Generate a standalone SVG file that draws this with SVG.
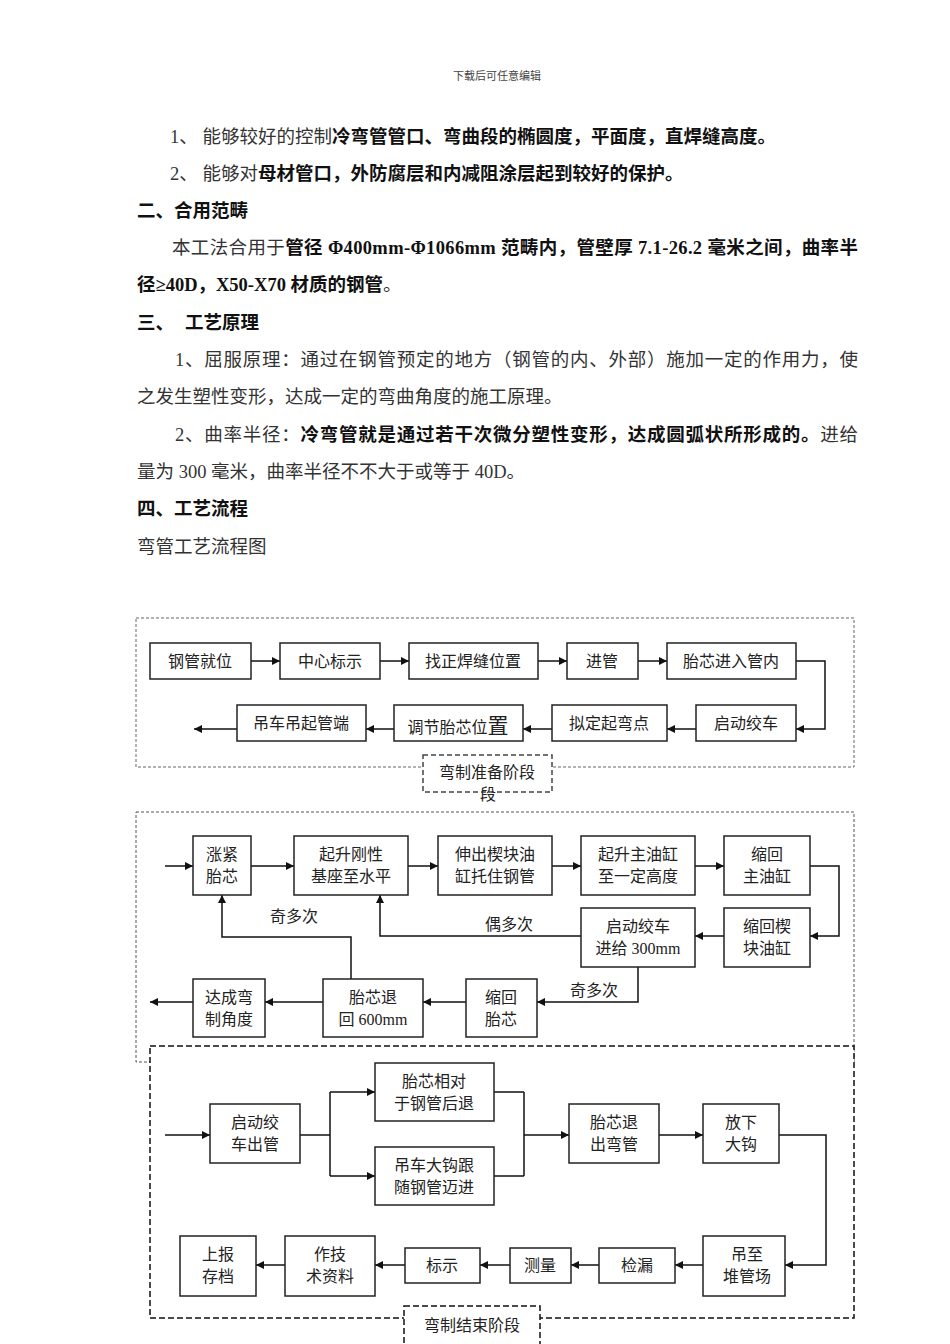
<svg xmlns="http://www.w3.org/2000/svg" width="950" height="1344" viewBox="0 0 950 1344">
<style>
.t{font-family:"Liberation Serif","Noto Sans CJK SC",serif;font-size:18.5px;fill:#111}
.b{font-weight:bold}
.n{font-weight:normal;fill:#333}
.bx{fill:#fff;stroke:#222;stroke-width:1.5}
.bt{font-family:"Liberation Serif","Noto Sans CJK SC",serif;font-size:16px;fill:#222;text-anchor:middle}
.lbl{font-family:"Liberation Serif","Noto Sans CJK SC",serif;font-size:16px;fill:#222;text-anchor:middle}
.c{fill:none;stroke:#111;stroke-width:1.5}
.ca{fill:none;stroke:#111;stroke-width:1.5;marker-end:url(#ah)}
</style>
<defs>
<marker id="ah" viewBox="0 0 10 10" refX="10" refY="5" markerWidth="9" markerHeight="8" markerUnits="userSpaceOnUse" orient="auto">
<path d="M0,0 L10,5 L0,10 z" fill="#111"/>
</marker>
</defs>
<rect width="950" height="1344" fill="#fff"/>

<g id="header">
<text x="497" y="80" font-family="Liberation Serif,Noto Sans CJK SC,serif" font-size="11" fill="#444" text-anchor="middle">下载后可任意编辑</text>
</g>

<g id="body-text" class="t">
<text x="170" y="143"><tspan class="n">1、 能够较好的控制</tspan><tspan class="b">冷弯管管口、弯曲段的椭圆度，平面度，直焊缝高度。</tspan></text>
<text x="170" y="180"><tspan class="n">2、 能够对</tspan><tspan class="b">母材管口，外防腐层和内减阻涂层起到较好的保护。</tspan></text>
<text x="137" y="217" class="b">二、合用范畴</text>
<text x="172" y="254" textLength="686" lengthAdjust="spacing"><tspan class="n">本工法合用于</tspan><tspan class="b">管径 Φ400mm-Φ1066mm 范畴内，管壁厚 7.1-26.2 毫米之间，曲率半</tspan></text>
<text x="137" y="291"><tspan class="b">径≥40D，X50-X70 材质的钢管</tspan><tspan class="n">。</tspan></text>
<text x="137" y="329" class="b">三、 <tspan x="185">工艺原理</tspan></text>
<text x="175" y="366" class="n" textLength="683" lengthAdjust="spacing">1、屈服原理：通过在钢管预定的地方（钢管的内、外部）施加一定的作用力，使</text>
<text x="137" y="403" class="n">之发生塑性变形，达成一定的弯曲角度的施工原理。</text>
<text x="175" y="441" textLength="683" lengthAdjust="spacing"><tspan class="n">2、曲率半径：</tspan><tspan class="b">冷弯管就是通过若干次微分塑性变形，达成圆弧状所形成的。</tspan><tspan class="n">进给</tspan></text>
<text x="137" y="478" class="n">量为 300 毫米，曲率半径不不大于或等于 40D。</text>
<text x="137" y="515" class="b">四、工艺流程</text>
<text x="137" y="553" class="n">弯管工艺流程图</text>
</g>

<!-- stage frames -->
<g id="stage1-frame">
<rect x="136" y="618" width="718" height="149" fill="none" stroke="#666" stroke-width="1" stroke-dasharray="3,2"/>
</g>
<g id="stage2-frame">
<rect x="136" y="812" width="718" height="250" fill="none" stroke="#555" stroke-width="1" stroke-dasharray="3,2"/>
</g>
<g id="stage3-frame">
<rect x="150" y="1046" width="704" height="272" fill="#fff" stroke="#111" stroke-width="1.5" stroke-dasharray="6,3"/>
</g>

<g id="connectors">
<!-- stage 1 -->
<line class="ca" x1="251" y1="661" x2="280" y2="661"/>
<line class="ca" x1="380" y1="661" x2="409" y2="661"/>
<line class="ca" x1="538" y1="661" x2="567" y2="661"/>
<line class="ca" x1="638" y1="661" x2="667" y2="661"/>
<polyline class="ca" points="796,661 825,661 825,729 796,729"/>
<line class="ca" x1="696" y1="729" x2="667" y2="729"/>
<line class="ca" x1="552" y1="729" x2="523" y2="729"/>
<line class="ca" x1="394" y1="729" x2="366" y2="729"/>
<line class="ca" x1="237" y1="729" x2="194" y2="729"/>
<!-- stage 2 -->
<line class="ca" x1="165" y1="866" x2="193" y2="866"/>
<line class="ca" x1="251" y1="866" x2="294" y2="866"/>
<line class="ca" x1="408" y1="866" x2="438" y2="866"/>
<line class="ca" x1="552" y1="866" x2="581" y2="866"/>
<line class="ca" x1="695" y1="866" x2="724" y2="866"/>
<polyline class="ca" points="810,866 839,866 839,936 810,936"/>
<line class="ca" x1="724" y1="936" x2="695" y2="936"/>
<polyline class="ca" points="581,936 380,936 380,895"/>
<polyline class="ca" points="638,967 638,1002 537,1002"/>
<line class="ca" x1="466" y1="1002" x2="423" y2="1002"/>
<line class="ca" x1="323" y1="1002" x2="265" y2="1002"/>
<line class="ca" x1="193" y1="1002" x2="150" y2="1002"/>
<polyline class="ca" points="351,979 351,937 222,937 222,895"/>
<!-- stage 3 -->
<line class="ca" x1="165" y1="1135" x2="210" y2="1135"/>
<line class="c" x1="300" y1="1135" x2="330" y2="1135"/>
<line class="c" x1="330" y1="1092" x2="330" y2="1176"/>
<line class="ca" x1="330" y1="1092" x2="375" y2="1092"/>
<line class="ca" x1="330" y1="1176" x2="375" y2="1176"/>
<line class="c" x1="494" y1="1092" x2="524" y2="1092"/>
<line class="c" x1="494" y1="1176" x2="524" y2="1176"/>
<line class="c" x1="524" y1="1092" x2="524" y2="1176"/>
<line class="ca" x1="524" y1="1135" x2="569" y2="1135"/>
<line class="ca" x1="659" y1="1135" x2="703" y2="1135"/>
<polyline class="ca" points="779,1135 826,1135 826,1265 785,1265"/>
<line class="ca" x1="703" y1="1265" x2="675" y2="1265"/>
<line class="ca" x1="599" y1="1265" x2="571" y2="1265"/>
<line class="ca" x1="510" y1="1265" x2="480" y2="1265"/>
<line class="ca" x1="405" y1="1265" x2="375" y2="1265"/>
<line class="ca" x1="285" y1="1265" x2="256" y2="1265"/>
<!-- labels -->
<text class="lbl" x="294" y="922">奇多次</text>
<text class="lbl" x="509" y="930">偶多次</text>
<text class="lbl" x="594" y="996">奇多次</text>
</g>

<!-- stage 1 nodes -->
<g id="n-gangguanjiuwei"><rect class="bx" x="150" y="643" width="101" height="36"/><text class="bt" x="200" y="667">钢管就位</text></g>
<g id="n-zhongxinbiaoshi"><rect class="bx" x="280" y="643" width="100" height="36"/><text class="bt" x="330" y="667">中心标示</text></g>
<g id="n-zhaozheng"><rect class="bx" x="409" y="643" width="129" height="36"/><text class="bt" x="473" y="667">找正焊缝位置</text></g>
<g id="n-jinguan"><rect class="bx" x="567" y="643" width="71" height="36"/><text class="bt" x="602" y="667">进管</text></g>
<g id="n-taixinjinru"><rect class="bx" x="667" y="643" width="129" height="36"/><text class="bt" x="731" y="667">胎芯进入管内</text></g>
<g id="n-qidongjiaoche1"><rect class="bx" x="696" y="705" width="100" height="36"/><text class="bt" x="746" y="729">启动绞车</text></g>
<g id="n-nidingqiwandian"><rect class="bx" x="552" y="705" width="115" height="36"/><text class="bt" x="609" y="729">拟定起弯点</text></g>
<g id="n-tiaojie"><rect class="bx" x="394" y="705" width="129" height="36"/><text class="bt" x="458" y="733">调节胎芯位<tspan font-size="21">置</tspan></text></g>
<g id="n-diaoche"><rect class="bx" x="237" y="705" width="129" height="36"/><text class="bt" x="301" y="729">吊车吊起管端</text></g>
<g id="stage1-label"><rect x="423" y="755" width="129" height="37" fill="#fff" stroke="#444" stroke-width="1.5" stroke-dasharray="5,3"/><text class="lbl" x="487" y="778">弯制准备阶段</text><text class="lbl" x="488" y="800">段</text></g>

<!-- stage 2 nodes -->
<g id="n-zhangjin"><rect class="bx" x="193" y="836" width="58" height="59"/><text class="bt" x="222" y="860">涨紧</text><text class="bt" x="222" y="882">胎芯</text></g>
<g id="n-qishenggangxing"><rect class="bx" x="294" y="836" width="114" height="59"/><text class="bt" x="351" y="860">起升刚性</text><text class="bt" x="351" y="882">基座至水平</text></g>
<g id="n-shenchuxiekuai"><rect class="bx" x="438" y="836" width="114" height="59"/><text class="bt" x="495" y="860">伸出楔块油</text><text class="bt" x="495" y="882">缸托住钢管</text></g>
<g id="n-qishengzhuyougang"><rect class="bx" x="581" y="836" width="114" height="59"/><text class="bt" x="638" y="860">起升主油缸</text><text class="bt" x="638" y="882">至一定高度</text></g>
<g id="n-suohuizhuyougang"><rect class="bx" x="724" y="836" width="86" height="59"/><text class="bt" x="767" y="860">缩回</text><text class="bt" x="767" y="882">主油缸</text></g>
<g id="n-suohuixiekuai"><rect class="bx" x="724" y="908" width="86" height="59"/><text class="bt" x="767" y="932">缩回楔</text><text class="bt" x="767" y="954">块油缸</text></g>
<g id="n-qidongjiaoche2"><rect class="bx" x="581" y="908" width="114" height="59"/><text class="bt" x="638" y="932">启动绞车</text><text class="bt" x="638" y="954">进给 300mm</text></g>
<g id="n-suohuitaixin"><rect class="bx" x="466" y="979" width="71" height="58"/><text class="bt" x="501" y="1003">缩回</text><text class="bt" x="501" y="1025">胎芯</text></g>
<g id="n-taixintuihui"><rect class="bx" x="323" y="979" width="100" height="58"/><text class="bt" x="373" y="1003">胎芯退</text><text class="bt" x="373" y="1025">回 600mm</text></g>
<g id="n-dacheng"><rect class="bx" x="193" y="979" width="72" height="58"/><text class="bt" x="229" y="1003">达成弯</text><text class="bt" x="229" y="1025">制角度</text></g>

<!-- stage 3 nodes -->
<g id="n-qidongchuguan"><rect class="bx" x="210" y="1104" width="90" height="59"/><text class="bt" x="255" y="1128">启动绞</text><text class="bt" x="255" y="1150">车出管</text></g>
<g id="n-taixinxiangdui"><rect class="bx" x="375" y="1063" width="119" height="58"/><text class="bt" x="434" y="1087">胎芯相对</text><text class="bt" x="434" y="1109">于钢管后退</text></g>
<g id="n-diaochedagou"><rect class="bx" x="375" y="1147" width="119" height="58"/><text class="bt" x="434" y="1171">吊车大钩跟</text><text class="bt" x="434" y="1193">随钢管迈进</text></g>
<g id="n-taixintuichu"><rect class="bx" x="569" y="1104" width="90" height="59"/><text class="bt" x="614" y="1128">胎芯退</text><text class="bt" x="614" y="1150">出弯管</text></g>
<g id="n-fangxiadagou"><rect class="bx" x="703" y="1104" width="76" height="59"/><text class="bt" x="741" y="1128">放下</text><text class="bt" x="741" y="1150">大钩</text></g>
<g id="n-diaozhi"><rect class="bx" x="703" y="1236" width="82" height="60"/><text class="bt" x="747" y="1260">吊至</text><text class="bt" x="747" y="1282">堆管场</text></g>
<g id="n-jianlou"><rect class="bx" x="599" y="1248" width="76" height="35"/><text class="bt" x="637" y="1271">检漏</text></g>
<g id="n-celiang"><rect class="bx" x="510" y="1248" width="61" height="35"/><text class="bt" x="540" y="1271">测量</text></g>
<g id="n-biaoshi"><rect class="bx" x="405" y="1248" width="75" height="35"/><text class="bt" x="442" y="1271">标示</text></g>
<g id="n-zuojishu"><rect class="bx" x="285" y="1236" width="90" height="60"/><text class="bt" x="330" y="1260">作技</text><text class="bt" x="330" y="1282">术资料</text></g>
<g id="n-shangbao"><rect class="bx" x="180" y="1236" width="76" height="60"/><text class="bt" x="218" y="1260">上报</text><text class="bt" x="218" y="1282">存档</text></g>
<g id="stage3-label"><rect x="404" y="1306" width="136" height="40" fill="#fff" stroke="#111" stroke-width="1.5" stroke-dasharray="6,3"/><text class="lbl" x="472" y="1331">弯制结束阶段</text></g>
</svg>
